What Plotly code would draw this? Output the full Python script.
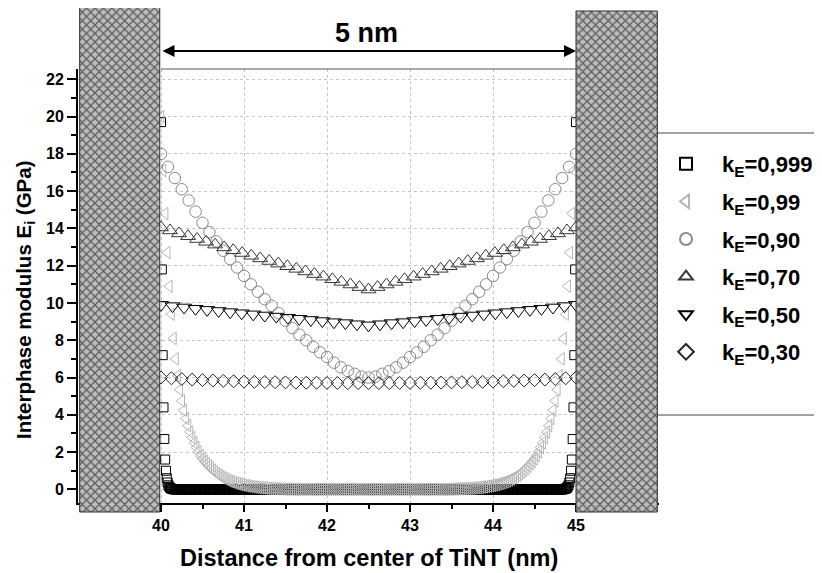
import numpy as np
import plotly.graph_objects as go

FONT = "Liberation Sans, Arial, sans-serif"

# ---------------- data ----------------
SERIES_NAMES = ["k<sub>E</sub>=0,999", "k<sub>E</sub>=0,99", "k<sub>E</sub>=0,90",
                "k<sub>E</sub>=0,70", "k<sub>E</sub>=0,50", "k<sub>E</sub>=0,30"]
X_START, X_END = 40.0, 45.0          # interphase between the two walls (nm)
N_POINTS = [501, 201, 61, 47, 37, 41]  # samples across 40..45 nm for each series

# Half profiles from x = 40 nm to the centre (42.5 nm); curves are symmetric about 42.5 nm.
E_0999_half = [
    19.7, 11.8, 7.2, 4.4, 2.7, 1.6, 1.0, 0.6, 0.37, 0.22, 0.14, 0.08, 0.05, 0.03, 0.02, 0.01,
    0, 0, 0, 0, 0, 0, 0, 0, 0, 0, 0, 0, 0, 0, 0, 0, 0, 0, 0, 0,
    0, 0, 0, 0, 0, 0, 0, 0, 0, 0, 0, 0, 0, 0, 0, 0, 0, 0, 0, 0,
    0, 0, 0, 0, 0, 0, 0, 0, 0, 0, 0, 0, 0, 0, 0, 0, 0, 0, 0, 0,
    0, 0, 0, 0, 0, 0, 0, 0, 0, 0, 0, 0, 0, 0, 0, 0, 0, 0, 0, 0,
    0, 0, 0, 0, 0, 0, 0, 0, 0, 0, 0, 0, 0, 0, 0, 0, 0, 0, 0, 0,
    0, 0, 0, 0, 0, 0, 0, 0, 0, 0, 0, 0, 0, 0, 0, 0, 0, 0, 0, 0,
    0, 0, 0, 0, 0, 0, 0, 0, 0, 0, 0, 0, 0, 0, 0, 0, 0, 0, 0, 0,
    0, 0, 0, 0, 0, 0, 0, 0, 0, 0, 0, 0, 0, 0, 0, 0, 0, 0, 0, 0,
    0, 0, 0, 0, 0, 0, 0, 0, 0, 0, 0, 0, 0, 0, 0, 0, 0, 0, 0, 0,
    0, 0, 0, 0, 0, 0, 0, 0, 0, 0, 0, 0, 0, 0, 0, 0, 0, 0, 0, 0,
    0, 0, 0, 0, 0, 0, 0, 0, 0, 0, 0, 0, 0, 0, 0, 0, 0, 0, 0, 0,
    0, 0, 0, 0, 0, 0, 0, 0, 0, 0, 0, 0, 0, 0, 0,
]
E_099_half = [
    20.0, 17.1, 14.8, 12.7, 10.9, 9.4, 8.1, 7.0, 6.1, 5.35,
    4.75, 4.25, 3.8, 3.42, 3.08, 2.78, 2.5, 2.25, 2.02, 1.82,
    1.64, 1.50, 1.37, 1.25, 1.13, 1.03, 0.93, 0.84, 0.76, 0.69,
    0.62, 0.56, 0.50, 0.45, 0.41, 0.37, 0.33, 0.30, 0.27, 0.24,
    0.22, 0.20, 0.18, 0.16, 0.14, 0.13, 0.11, 0.10, 0.09, 0.08,
    0.07, 0.06, 0.05, 0.05, 0.04, 0.04, 0.03, 0.03, 0.02, 0.02,
    0.01, 0.01, 0.01,
    0, 0, 0, 0, 0, 0, 0, 0, 0, 0, 0, 0, 0, 0, 0, 0, 0, 0, 0, 0,
    0, 0, 0, 0, 0, 0, 0, 0, 0, 0, 0, 0, 0, 0, 0, 0, 0, 0,
]
E_090_half = [
    18.0, 17.3, 16.7, 16.1, 15.5, 14.9, 14.3, 13.8, 13.3, 12.8,
    12.35, 11.9, 11.45, 11.0, 10.6, 10.2, 9.85, 9.45, 9.05, 8.65,
    8.3, 8.0, 7.65, 7.35, 7.1, 6.8, 6.55, 6.35, 6.2, 6.05, 6.0,
]
E_070_half = [
    14.05, 13.89, 13.73, 13.58, 13.43, 13.28, 13.13, 12.98, 12.83, 12.68,
    12.53, 12.39, 12.25, 12.11, 11.97, 11.83, 11.69, 11.55, 11.41, 11.27,
    11.13, 10.99, 10.85, 10.72,
]
E_050_half = [
    9.90, 9.83, 9.76, 9.69, 9.63, 9.57, 9.51, 9.45, 9.39, 9.33,
    9.27, 9.21, 9.15, 9.09, 9.03, 8.97, 8.92, 8.86, 8.80,
]
E_030_half = [
    6.00, 5.96, 5.92, 5.89, 5.86, 5.84, 5.82, 5.80, 5.78, 5.77,
    5.76, 5.75, 5.74, 5.73, 5.72, 5.72, 5.71, 5.71, 5.70, 5.70, 5.70,
]
HALVES = [E_0999_half, E_099_half, E_090_half, E_070_half, E_050_half, E_030_half]

X_TICKS = [40, 41, 42, 43, 44, 45]
X_MINOR = [40.5, 41.5, 42.5, 43.5, 44.5]
Y_TICKS = [0, 2, 4, 6, 8, 10, 12, 14, 16, 18, 20, 22]
Y_MINOR = [1, 3, 5, 7, 9, 11, 13, 15, 17, 19, 21]

# TiNT walls (nm)
WALL_X0 = [39.02, 45.0]
WALL_X1 = [39.985, 45.98]

# ---------------- styling / layout ----------------
W, H = 822, 573
OFF = 8                                  # page body margin of the html page
def fx(p):  # screen column -> figure pixel
    return p - OFF
def fy(p):  # screen row -> figure pixel
    return p - OFF

PL, PR, PT, PB = fx(78), fx(659), fy(69), fy(503)   # plot area (figure px)
X_RANGE = [39, 46]
Y_RANGE = [-0.73, 22.55]
upp = (Y_RANGE[1] - Y_RANGE[0]) / (PB - PT)    # y units per pixel
Y2_RANGE = [Y_RANGE[0] - (H - PB) * upp, Y_RANGE[1] + PT * upp]
def py(p_screen):  # screen row -> y2 units
    return Y_RANGE[1] + (PT - fy(p_screen)) * upp

STYLES = [
    dict(symbol="square-open", color="#000000", size=9),
    dict(symbol="triangle-left-open", color="#b5b5b5", size=11),
    dict(symbol="circle-open", color="#8a8a8a", size=11.5),
    dict(symbol="triangle-up-open", color="#383838", size=13),
    dict(symbol="triangle-down-open", color="#000000", size=13),
    dict(symbol="diamond-open", color="#262626", size=10),
]

fig = go.Figure()
for name, half, n, st in zip(SERIES_NAMES, HALVES, N_POINTS, STYLES):
    ys = list(half) + list(half[-2::-1])
    xs = np.linspace(X_START, X_END, n)
    fig.add_trace(go.Scatter(
        x=xs, y=ys, mode="markers", name=name, legendgroup=name,
        marker=dict(symbol=st["symbol"], color=st["color"], size=st["size"],
                    line=dict(width=1, color=st["color"])),
        xaxis="x", yaxis="y", hoverinfo="skip"))

wall_c = [(a + b) / 2 for a, b in zip(WALL_X0, WALL_X1)]
wall_w = [b - a for a, b in zip(WALL_X0, WALL_X1)]
wall_bottom = [py(512), py(512)]
wall_top = [py(7), py(11)]
fig.add_trace(go.Bar(
    x=wall_c, width=wall_w, base=wall_bottom,
    y=[t - b for t, b in zip(wall_top, wall_bottom)],
    xaxis="x2", yaxis="y2", showlegend=False, hoverinfo="skip",
    marker=dict(color="#bdbdbd", line=dict(color="#303030", width=1),
                pattern=dict(shape="x", fgcolor="#000000", bgcolor="#bdbdbd",
                             size=6, solidity=0.4))))

tickfont = dict(family=FONT, size=16, color="black", weight="bold")
fig.update_layout(
    width=W, height=H, margin=dict(l=0, r=0, t=0, b=0, autoexpand=False),
    paper_bgcolor="white", plot_bgcolor="rgba(0,0,0,0)",
    showlegend=True,
    xaxis=dict(domain=[PL / W, PR / W], range=X_RANGE, anchor="y",
               tickvals=X_TICKS, ticks="outside", ticklen=7, tickwidth=2,
               tickcolor="black", showline=True, linewidth=2, linecolor="black",
               showgrid=True, gridcolor="#c4c4c4", griddash="dot", gridwidth=1,
               zeroline=False, tickfont=tickfont,
               minor=dict(tickvals=X_MINOR, ticks="outside", ticklen=4,
                          tickwidth=2, tickcolor="black", showgrid=False)),
    yaxis=dict(domain=[(H - PB) / H, (H - PT) / H], range=Y_RANGE, anchor="x",
               tickvals=Y_TICKS, ticks="outside", ticklen=9, tickwidth=2,
               tickcolor="black", showline=True, linewidth=2, linecolor="black",
               showgrid=True, gridcolor="#c4c4c4", griddash="dot", gridwidth=1,
               zeroline=False, tickfont=tickfont,
               minor=dict(tickvals=Y_MINOR, ticks="outside", ticklen=5,
                          tickwidth=2, tickcolor="black", showgrid=False)),
    xaxis2=dict(domain=[PL / W, PR / W], range=X_RANGE, anchor="y2", visible=False),
    yaxis2=dict(domain=[0, 1], range=Y2_RANGE, anchor="x2", visible=False),
    legend=dict(x=fx(650) / W, xanchor="left", y=1 - fy(143) / H, yanchor="top",
                bgcolor="rgba(0,0,0,0)", borderwidth=0,
                font=dict(family=FONT, size=22, color="black", weight="bold"),
                itemsizing="constant", itemwidth=62, tracegroupgap=6,
                traceorder="grouped"),
    shapes=[
        dict(type="line", xref="x", yref="paper", x0=40, x1=45,
             y0=(H - PT) / H, y1=(H - PT) / H, line=dict(color="#555555", width=1)),
        dict(type="line", xref="paper", yref="paper", x0=fx(657) / W, x1=1.0,
             y0=1 - fy(133) / H, y1=1 - fy(133) / H, line=dict(color="#444444", width=1)),
        dict(type="line", xref="paper", yref="paper", x0=fx(657) / W, x1=1.0,
             y0=1 - fy(415) / H, y1=1 - fy(415) / H, line=dict(color="#444444", width=1)),
    ],
    annotations=[
        dict(xref="x2", yref="y2", x=X_END, y=py(51), axref="x2", ayref="y2",
             ax=X_START, ay=py(51), text="", showarrow=True, arrowside="end+start",
             arrowhead=2, arrowsize=1.2, arrowwidth=2, arrowcolor="black"),
        dict(xref="x2", yref="y2", x=42.47, y=py(33), text="5 nm", showarrow=False,
             xanchor="center", yanchor="middle",
             font=dict(family=FONT, size=27, color="black", weight="bold")),
        dict(xref="x", yref="paper", x=42.5, y=1 - fy(558) / H,
             text="Distance from center of TiNT (nm)", showarrow=False,
             xanchor="center", yanchor="middle",
             font=dict(family=FONT, size=23.5, color="black", weight="bold")),
        dict(xref="paper", yref="paper", x=fx(25) / W, y=1 - fy(300) / H,
             text="Interphase modulus E<sub>i</sub> (GPa)", textangle=-90, showarrow=False,
             xanchor="center", yanchor="middle",
             font=dict(family=FONT, size=20.5, color="black", weight="bold")),
    ],
)

fig.write_html("out.html")
